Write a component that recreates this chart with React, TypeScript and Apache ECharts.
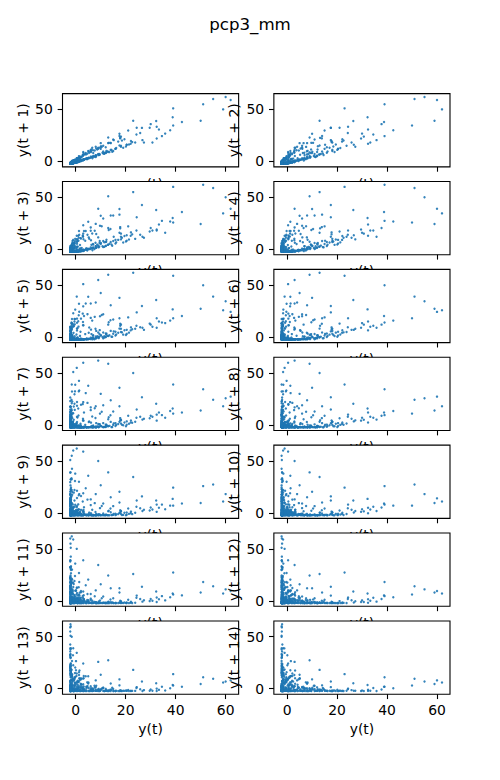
import React, { useEffect, useRef } from "react";
import * as echarts from "echarts";

const chartTitle = "pcp3_mm";
const lags = [1, 2, 3, 4, 5, 6, 7, 8, 9, 10, 11, 12, 13, 14];
const xTicks = [0, 20, 40, 60];
const yTicks = [0, 50];
const axisMin = -5.3;
const axisMax = 65.2;

const pcpPart1 = [
  -2.1, -2.2, -2.0, -1.8, -2.1, -1.6, -0.9, 0.4, 1.3, 0.2, -1.1, -1.8, -2.2, -2.0, -1.4, -0.3, 1.6, 3.2, 2.1, 0.4,
  -1.2, -2.0, -2.2, -2.1, -1.6, -0.4, 1.1, 2.9, 5.4, 8.2, 12.3, 10.1, 14.6, 9.2, 6.0, 3.4, 1.8, 0.3, -1.0, -1.9,
  -2.2, -2.0, -2.1, -1.5, -0.6, 0.9, -0.2, -1.3, -2.0, -2.2, -2.1, -2.2, -1.9, -1.4, -2.0, -2.2, -1.7, -0.5, 1.0, 3.3,
  6.6, 13.0, 17.5, 15.2, 20.4, 15.9, 12.0, 8.2, 5.5, 3.1, 1.6, 0.2, -0.9, -1.7, -2.1, -2.2, -2.2, -2.1, -2.2, -2.0,
];
const pcpPart2 = [
  -2.1, -2.2, -1.6, -1.0, 0.4, 3.0, 9.0, 13.0, 23.0, 39.0, 51.0, 55.0, 60.0, 62.0, 59.0, 50.0, 39.0, 34.5, 24.3, 25.8,
  27.3, 18.1, 14.0, 11.0, 9.5, 7.0, 8.0, 6.0, 4.5, 3.0, 1.8, 0.6, -0.5, -1.4, -2.0, -2.2, -2.1, -2.2, -1.8, -0.9,
  0.3, 1.7, 0.8, 2.4, 4.1, 2.6, 1.2, -0.4, -1.5, -2.1, -2.2, -2.0, -2.2, -2.1, -2.2, -1.9, -2.0, -1.7, -0.3, 1.4,
  4.0, 8.0, 14.0, 17.5, 24.4, 32.4, 33.3, 30.7, 18.1, 23.8, 18.1, 15.0, 10.0, 12.0, 8.0, 5.0, 3.2, 1.5, 0.1, -1.1,
];
const pcpPart3 = [
  -1.9, -2.2, -2.1, -2.0, -2.2, -1.5, -0.2, 1.3, 5.0, 10.0, 17.5, 26.5, 32.2, 38.8, 42.5, 37.8, 30.0, 35.8, 26.7, 20.4,
  15.9, 12.0, 13.5, 9.0, 7.0, 5.2, 3.5, 1.8, 0.4, -0.8, -1.7, -2.2, -2.0, -2.2, -2.1, -1.8, -1.1, -0.2, 0.7, -0.5,
  -1.4, -2.0, -2.2, -2.1, -1.6, -0.8, 0.6, 2.2, 1.1, -0.3, -1.4, -2.0, -2.2, -2.1, -2.2, -1.9, -2.0, -2.2, -1.6, -0.5,
  1.2, 3.0, 6.0, 11.0, 15.0, 21.0, 29.6, 32.4, 22.0, 17.0, 19.0, 13.0, 9.0, 6.5, 4.2, 2.4, 1.0, -0.3, -1.2, -1.9,
];
const pcpPart4 = [
  -2.2, -2.1, -2.2, -2.0, -1.7, -0.8, 0.5, 1.9, 3.8, 6.9, 10.7, 8.2, 5.1, 2.9, 1.3, 0.1, -1.0, -1.8, -2.2, -2.1,
  -2.0, -2.2, -1.4, 0.5, 2.8, 6.0, 9.7, 13.2, 17.8, 22.6, 18.5, 20.1, 14.3, 11.0, 7.5, 4.6, 2.1, 0.3, -1.2, -2.0,
  -2.2, -2.0, -2.1, -2.2, -1.8, -1.0, 0.7, 2.9, 6.1, 9.0, 12.2, 8.6, 11.4, 7.2, 4.4, 2.3, 0.9, -0.4, -1.3, -1.9,
  -2.1, -2.2, -2.2, -1.9, -2.0, -2.2, -2.1, -2.2, -2.0, -1.9, -1.3, -0.4, 0.6, 1.9, 3.2, 2.0, 0.8, -0.5, -1.4, -2.0,
];
const pcpPart5 = [
  -2.2, -2.1, -2.2, -2.0, -1.6, -0.8, 0.5, 2.1, 4.7, 7.6, 10.4, 13.9, 17.8, 22.1, 19.5, 21.3, 16.2, 12.8, 9.4, 6.6,
  4.3, 2.5, 1.2, 0.1, -0.9, -1.6, -2.2, -2.1, -2.2, -1.9, -2.2, -1.6, -0.7, 0.3, 1.6, 0.9, -0.2, -1.1, -1.8, -2.2,
  -2.1, -2.0, -1.3, 0.5, 3.1, 7.9, 5.2, 9.6, 6.3, 11.4, 8.0, 4.2, 6.7, 2.9, 0.8, -0.9, -1.8, -2.2, -2.0, -2.2,
  -2.1, -1.9, -2.2, -2.0, -2.1, -2.2, -2.0, -2.2, -2.1, -1.9, -2.2, -2.0, -2.1, -1.7, -1.0, 0.1, 1.2, 2.0, 0.9, -0.6,
];

const pcp3 = [...pcpPart1, ...pcpPart2, ...pcpPart3, ...pcpPart4, ...pcpPart5];

const FONT = "DejaVu Sans";

export default function App() {
  const ref = useRef<HTMLDivElement>(null);

  useEffect(() => {
    if (!ref.current) return;
    const chart = echarts.init(ref.current, null, { renderer: "svg", width: 500, height: 780 });

    const figW = 500;
    const figH = 780;
    const left = 0.125 * figW;
    const right = 0.9 * figW;
    const top = (1 - 0.88) * figH;
    const bottom = (1 - 0.11) * figH;
    const nCols = 2;
    const nRows = 7;
    const cellW = (right - left) / (nCols + (nCols - 1) * 0.2);
    const cellH = (bottom - top) / (nRows + (nRows - 1) * 0.2);
    const gapW = cellW * 0.2;
    const gapH = cellH * 0.2;

    const grids: any[] = [];
    const xAxes: any[] = [];
    const yAxes: any[] = [];
    const series: any[] = [];
    const graphics: any[] = [];

    graphics.push({
      type: "text",
      x: figW / 2,
      y: 24,
      z: 100,
      style: {
        text: chartTitle,
        fontFamily: FONT,
        fontSize: 16.67,
        fill: "#000",
        align: "center",
        verticalAlign: "middle",
      },
    });

    lags.forEach((lag, i) => {
      const row = Math.floor(i / nCols);
      const col = i % nCols;
      const gx = left + col * (cellW + gapW);
      const gy = top + row * (cellH + gapH);
      const isBottom = row === nRows - 1;

      grids.push({
        left: gx,
        top: gy,
        width: cellW,
        height: cellH,
        show: true,
        backgroundColor: "#fff",
        borderColor: "#000",
        borderWidth: 1.1,
        containLabel: false,
      });

      xAxes.push({
        type: "value",
        gridIndex: i,
        min: axisMin,
        max: axisMax,
        axisLine: { show: false, onZero: false },
        splitLine: { show: false },
        axisTick: {
          show: true,
          length: 4.86,
          customValues: xTicks,
          lineStyle: { color: "#000", width: 1.1 },
        },
        axisLabel: {
          show: isBottom,
          customValues: xTicks,
          margin: 8.5,
          color: "#000",
          fontSize: 13.9,
          fontFamily: FONT,
        },
      });

      yAxes.push({
        type: "value",
        gridIndex: i,
        min: axisMin,
        max: axisMax,
        axisLine: { show: false, onZero: false },
        splitLine: { show: false },
        axisTick: {
          show: true,
          length: 4.86,
          customValues: yTicks,
          lineStyle: { color: "#000", width: 1.1 },
        },
        axisLabel: {
          show: true,
          customValues: yTicks,
          margin: 9.7,
          color: "#000",
          fontSize: 13.9,
          fontFamily: FONT,
        },
      });

      const pts: number[][] = [];
      for (let t = 0; t + lag < pcp3.length; t++) {
        pts.push([pcp3[t], pcp3[t + lag]]);
      }
      series.push({
        type: "scatter",
        xAxisIndex: i,
        yAxisIndex: i,
        data: pts,
        symbol: "circle",
        symbolSize: 2.4,
        silent: true,
        itemStyle: { color: "#1f77b4", opacity: 0.9 },
      });

      graphics.push({
        type: "text",
        x: gx - 40,
        y: gy + cellH / 2,
        rotation: Math.PI / 2,
        z: 100,
        style: {
          text: `y(t + ${lag})`,
          fontFamily: FONT,
          fontSize: 13.9,
          fill: "#000",
          align: "center",
          verticalAlign: "middle",
        },
      });

      graphics.push({
        type: "text",
        x: gx + cellW / 2,
        y: isBottom ? gy + cellH + 34.8 : gy + cellH + 16.7,
        z: -10,
        style: {
          text: "y(t)",
          fontFamily: FONT,
          fontSize: 13.9,
          fill: "#000",
          align: "center",
          verticalAlign: "middle",
        },
      });
    });

    chart.setOption({
      animation: false,
      backgroundColor: "#fff",
      grid: grids,
      xAxis: xAxes,
      yAxis: yAxes,
      series,
      graphic: { elements: graphics },
    });

    return () => {
      chart.dispose();
    };
  }, []);

  return (
    <div
      ref={ref}
      style={{ position: "fixed", left: 0, top: 0, width: 500, height: 780 }}
    />
  );
}
